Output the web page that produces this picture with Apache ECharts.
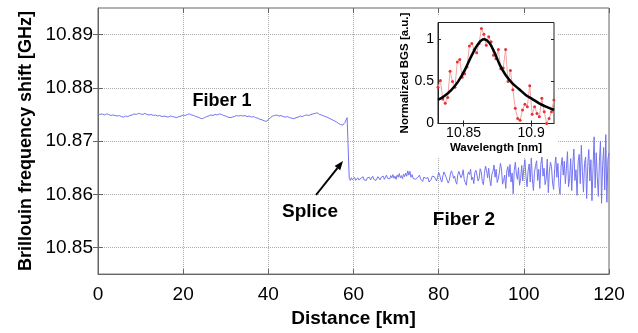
<!DOCTYPE html>
<html><head><meta charset="utf-8">
<script src="https://cdn.jsdelivr.net/npm/echarts@6/dist/echarts.min.js"></script>
<style>html,body{margin:0;padding:0;background:#fff}#c{width:638px;height:333px}</style>
</head><body><div id="c"></div>
<script>
// ---- data ----
const distanceTicks = [0, 20, 40, 60, 80, 100, 120];
const shiftTicks = [10.85, 10.86, 10.87, 10.88, 10.89];

const fiber1StartKm = 0, fiber1StepKm = 0.5;
const fiber1ShiftGHz = [
10.8752,10.8750,10.8751,10.8749,10.8751,10.8750,10.8748,10.8749,
10.8748,10.8747,10.8748,10.8746,10.8745,10.8747,10.8746,10.8748,
10.8749,10.8751,10.8750,10.8752,10.8751,10.8750,10.8752,10.8750,
10.8749,10.8750,10.8748,10.8749,10.8747,10.8748,10.8746,10.8747,
10.8746,10.8745,10.8747,10.8746,10.8745,10.8744,10.8746,10.8747,
10.8749,10.8748,10.8750,10.8751,10.8749,10.8748,10.8746,10.8745,
10.8743,10.8742,10.8744,10.8746,10.8747,10.8749,10.8748,10.8750,
10.8749,10.8751,10.8750,10.8748,10.8747,10.8745,10.8744,10.8745,
10.8746,10.8748,10.8747,10.8748,10.8747,10.8748,10.8746,10.8747,
10.8745,10.8746,10.8744,10.8743,10.8741,10.8740,10.8738,10.8737,
10.8740,10.8744,10.8747,10.8748,10.8749,10.8747,10.8748,10.8746,
10.8745,10.8746,10.8744,10.8743,10.8742,10.8744,10.8745,10.8747,
10.8746,10.8748,10.8749,10.8748,10.8750,10.8751,10.8752,10.8753,
10.8750,10.8749,10.8747,10.8746,10.8744,10.8742,10.8740,10.8738,
10.8736,10.8733,10.8731,10.8730,10.8735,10.8744];

const fiber2StartKm = 59, fiber2StepKm = 0.25;
const fiber2ShiftGHz = [
10.8630,10.8626,10.8631,10.8627, 10.8629,10.8632,10.8626,10.8628,
10.8631,10.8627,10.8625,10.8630, 10.8628,10.8633,10.8627,10.8629,
10.8626,10.8631,10.8629,10.8632, 10.8627,10.8630,10.8634,10.8628,
10.8631,10.8626,10.8629,10.8633, 10.8630,10.8627,10.8632,10.8629,
10.8634,10.8628,10.8631,10.8636, 10.8630,10.8633,10.8629,10.8635,
10.8631,10.8637,10.8630,10.8634, 10.8628,10.8636,10.8632,10.8639,
10.8631,10.8635,10.8629,10.8638, 10.8633,10.8640,10.8634,10.8644,
10.8636,10.8643,10.8632,10.8637,
10.8630,10.8633,10.8628,10.8625, 10.8631,10.8634,10.8636,10.8629,
10.8626,10.8624,10.8632,10.8635, 10.8630,10.8627,10.8631,10.8623,
10.8621,10.8628,10.8634,10.8637, 10.8633,10.8629,10.8625,10.8632,
10.8641,10.8636,10.8627,10.8623, 10.8635,10.8642,10.8645,10.8632,
10.8629,10.8621,10.8626,10.8638, 10.8644,10.8639,10.8630,10.8634,
10.8624,10.8619,10.8637,10.8643, 10.8640,10.8631,10.8636,10.8646,
10.8628,10.8622,10.8617,10.8635, 10.8642,10.8637,10.8647,10.8627,
10.8632,10.8620,10.8641,10.8645, 10.8636,10.8625,10.8629,10.8648,
10.8642,10.8624,10.8618,10.8639, 10.8653,10.8645,10.8631,10.8649,
10.8627,10.8616,10.8638,10.8643, 10.8655,10.8632,10.8647,10.8622,
10.8629,10.8641,10.8658,10.8648, 10.8619,10.8626,10.8636,10.8611,
10.8644,10.8652,10.8633,10.8656, 10.8623,10.8640,10.8601,10.8645,
10.8660,10.8638,10.8628,10.8650, 10.8617,10.8630,10.8654,10.8625,
10.8650,10.8665,10.8633,10.8614, 10.8644,10.8657,10.8623,10.8668,
10.8630,10.8607,10.8641,10.8654, 10.8663,10.8626,10.8647,10.8611,
10.8656,10.8671,10.8634,10.8649, 10.8618,10.8629,10.8666,10.8603,
10.8643,10.8660,10.8652,10.8621, 10.8609,10.8648,10.8674,10.8632,
10.8658,10.8615,10.8600,10.8653, 10.8669,10.8636,10.8662,10.8620,
10.8649,10.8680,10.8614,10.8630, 10.8667,10.8607,10.8655,10.8685,
10.8626,10.8646,10.8598,10.8661, 10.8675,10.8620,10.8692,10.8643,
10.8604,10.8658,10.8670,10.8592, 10.8652,10.8684,10.8625,10.8665,
10.8588,10.8650,10.8708,10.8612, 10.8678,10.8632,10.8596,10.8662,
10.8700,10.8583,10.8654,10.8688, 10.8608,10.8712,10.8585,10.8666,
10.8678];

// inset: normalized Brillouin gain spectrum
const bgsWavelengthStart = 10.831, bgsWavelengthStep = 0.00179;
const bgsMeasured = [0.43,0.51,0.29,0.24,0.31,0.62,0.50,0.43,0.73,0.76,0.55,0.59,0.67,0.92,0.95,0.88,0.84,0.95,1.13,1.06,0.93,1.03,0.97,0.81,0.77,0.88,0.65,0.66,0.88,0.50,0.63,0.40,0.18,0.06,0.04,0.16,0.23,0.20,0.45,0.11,0.20,0.12,0.08,0.30,0.14,0.00,0.06,0.14,0.28];
const fitWavelength = [10.831,10.836,10.841,10.846,10.851,10.856,10.861,10.865,10.869,10.873,10.877,10.881,10.886,10.891,10.896,10.901,10.906,10.911,10.917];
const fitBGS = [0.28,0.33,0.40,0.50,0.64,0.81,0.95,1.00,0.96,0.84,0.69,0.58,0.48,0.41,0.34,0.29,0.24,0.20,0.16];
const insetXTicks = [10.85, 10.9];
const insetYTicks = [0, 0.5, 1];

// ---- build ----
const trace = fiber1ShiftGHz.map((v, i) => [fiber1StartKm + i * fiber1StepKm, v])
  .concat(fiber2ShiftGHz.map((v, i) => [fiber2StartKm + i * fiber2StepKm, v]));
const bgsData = bgsMeasured.map((v, i) => [bgsWavelengthStart + i * bgsWavelengthStep, v]);
const fitData = fitWavelength.map((w, i) => [w, fitBGS[i]]);

const FONT = 'Liberation Sans';
const dotted = { show: true, lineStyle: { color: '#aaa', type: 'dotted', width: 1 } };
const chart = echarts.init(document.getElementById('c'), null, { renderer: 'canvas' });

chart.setOption({
  animation: false,
  backgroundColor: '#fff',
  textStyle: { fontFamily: FONT },
  grid: [
    { left: 98, top: 8, width: 511, height: 277, show: true, borderColor: '#666', borderWidth: 1, backgroundColor: 'transparent' },
    { left: 438, top: 22.5, width: 116, height: 101, show: true, borderColor: '#222', borderWidth: 1, backgroundColor: 'transparent', zlevel: 2 }
  ],
  xAxis: [
    { gridIndex: 0, type: 'value', min: 0, max: 120, interval: 20, position: 'bottom',
      axisLine: { show: true, lineStyle: { color: '#666' } },
      axisTick: { show: true, inside: true, length: 5, lineStyle: { color: '#666' } },
      axisLabel: { fontSize: 19, color: '#000', margin: 11, fontFamily: FONT },
      splitLine: dotted,
      name: 'Distance [km]', nameLocation: 'middle', nameGap: 30,
      nameTextStyle: { fontSize: 19, fontWeight: 'bold', color: '#000', fontFamily: FONT } },
    { gridIndex: 0, type: 'value', min: 0, max: 120, interval: 20, position: 'top',
      axisLine: { show: false }, axisTick: { show: true, inside: true, length: 5, lineStyle: { color: '#666' } },
      axisLabel: { show: false }, splitLine: { show: false } },
    { gridIndex: 1, type: 'value', min: 10.831, max: 10.917, position: 'bottom', zlevel: 2,
      axisLine: { show: true, lineStyle: { color: '#222' } },
      axisTick: { show: true, inside: true, length: 3, customValues: insetXTicks, lineStyle: { color: '#222' } },
      axisLabel: { customValues: insetXTicks, fontSize: 14, color: '#000', margin: 3, formatter: v => String(+v.toFixed(3)) },
      splitLine: { show: false },
      name: 'Wavelength [nm]', nameLocation: 'middle', nameGap: 12,
      nameTextStyle: { fontSize: 11.5, fontWeight: 'bold', color: '#000', fontFamily: FONT } },
    { gridIndex: 1, type: 'value', min: 10.831, max: 10.917, position: 'top', zlevel: 2,
      axisLine: { show: false }, axisTick: { show: true, inside: true, length: 3, customValues: insetXTicks, lineStyle: { color: '#222' } },
      axisLabel: { show: false }, splitLine: { show: false } }
  ],
  yAxis: [
    { gridIndex: 0, type: 'value', min: 10.845, max: 10.895, position: 'left',
      axisLine: { show: true, lineStyle: { color: '#666' } },
      axisTick: { show: true, inside: true, length: 5, customValues: shiftTicks, lineStyle: { color: '#666' } },
      axisLabel: { customValues: shiftTicks, fontSize: 19, color: '#000', margin: 5, formatter: v => v.toFixed(2) },
      splitLine: dotted,
      name: 'Brillouin frequency shift [GHz]', nameLocation: 'middle', nameGap: 60,
      nameTextStyle: { fontSize: 18, fontWeight: 'bold', color: '#000', fontFamily: FONT } },
    { gridIndex: 0, type: 'value', min: 10.845, max: 10.895, position: 'right',
      axisLine: { show: false }, axisTick: { show: true, inside: true, length: 5, customValues: shiftTicks, lineStyle: { color: '#666' } },
      axisLabel: { show: false }, splitLine: { show: false } },
    { gridIndex: 1, type: 'value', min: 0, max: 1.2, position: 'left', zlevel: 2,
      axisLine: { show: true, lineStyle: { color: '#222' } },
      axisTick: { show: true, inside: true, length: 3, customValues: insetYTicks, lineStyle: { color: '#222' } },
      axisLabel: { customValues: insetYTicks, fontSize: 14, color: '#000', margin: 4, formatter: v => String(v) },
      splitLine: { show: false },
      name: 'Normalized BGS [a.u.]', nameLocation: 'middle', nameGap: 14,
      nameTextStyle: { fontSize: 11.5, fontWeight: 'bold', color: '#000', fontFamily: FONT } },
    { gridIndex: 1, type: 'value', min: 0, max: 1.2, position: 'right', zlevel: 2,
      axisLine: { show: false }, axisTick: { show: true, inside: true, length: 3, customValues: insetYTicks, lineStyle: { color: '#222' } },
      axisLabel: { show: false }, splitLine: { show: false } }
  ],
  series: [
    { type: 'line', xAxisIndex: 0, yAxisIndex: 0, data: trace, showSymbol: false, symbol: 'none',
      lineStyle: { color: '#7474f2', width: 1 }, z: 3 },
    { type: 'line', xAxisIndex: 2, yAxisIndex: 2, data: bgsData, zlevel: 2, symbol: 'circle', symbolSize: 3,
      itemStyle: { color: '#e53535' }, lineStyle: { color: '#f3a3a3', width: 1 }, z: 3 },
    { type: 'line', xAxisIndex: 2, yAxisIndex: 2, data: fitData, zlevel: 2, smooth: 0.4, showSymbol: false, symbol: 'none',
      lineStyle: { color: '#000', width: 2.5 }, z: 4 }
  ],
  graphic: { elements: [
    { type: 'rect', zlevel: 1, shape: { x: 399, y: 16, width: 159, height: 141 }, style: { fill: '#fff' } },
    { type: 'text', zlevel: 1, x: 222, y: 101, style: { text: 'Fiber 1', font: 'bold 18px "Liberation Sans"', fill: '#000', align: 'center', verticalAlign: 'middle' } },
    { type: 'text', zlevel: 1, x: 310, y: 212, style: { text: 'Splice', font: 'bold 19px "Liberation Sans"', fill: '#000', align: 'center', verticalAlign: 'middle' } },
    { type: 'text', zlevel: 1, x: 464, y: 220, style: { text: 'Fiber 2', font: 'bold 19px "Liberation Sans"', fill: '#000', align: 'center', verticalAlign: 'middle' } },
    { type: 'line', zlevel: 1, shape: { x1: 316, y1: 195, x2: 337.4, y2: 168.1 }, style: { stroke: '#000', lineWidth: 2 } },
    { type: 'polygon', zlevel: 1, shape: { points: [[343, 161], [340.2, 170.3], [334.6, 165.9]] }, style: { fill: '#000' } }
  ] }
});
</script>
</body></html>
